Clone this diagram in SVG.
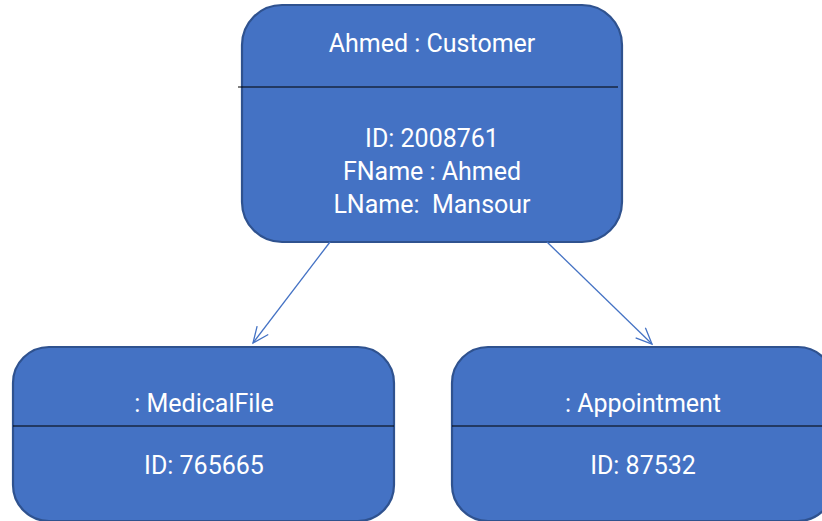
<svg xmlns="http://www.w3.org/2000/svg" width="822" height="521" viewBox="0 0 822 521">
<defs>
<style>
.box{fill:#4472C4;stroke:#2F528F;stroke-width:2.2}
.div{stroke:#000;stroke-width:1.2}
.t{fill:#fff;font-family:Roboto,"Liberation Sans",sans-serif;font-size:25px;text-anchor:middle}
.conn{stroke:#4472C4;stroke-width:1.3;fill:none}
</style>
<marker id="open" markerWidth="20" markerHeight="20" refX="18" refY="8" orient="auto" markerUnits="userSpaceOnUse">
<path d="M2,1 L18,8 L2,15" fill="none" stroke="#4472C4" stroke-width="1.3"/>
</marker>
</defs>
<rect width="822" height="521" fill="#fff"/>
<g id="customer">
<rect class="box" x="242" y="5" width="380" height="237" rx="40" ry="40"/>
<line class="div" x1="238" y1="87" x2="618" y2="87"/>
<text class="t" x="432" y="52">Ahmed : Customer</text>
<text class="t" x="432" y="147">ID: 2008761</text>
<text class="t" x="432" y="180">FName : Ahmed</text>
<text class="t" x="432" y="213" xml:space="preserve">LName:  Mansour</text>
</g>
<g id="medicalfile">
<rect class="box" x="13" y="347" width="381" height="174" rx="36" ry="36"/>
<line class="div" x1="13" y1="426" x2="394" y2="426"/>
<text class="t" x="204" y="412">: MedicalFile</text>
<text class="t" x="204" y="474">ID: 765665</text>
</g>
<g id="appointment">
<rect class="box" x="452" y="347" width="382" height="174" rx="36" ry="36"/>
<line class="div" x1="452" y1="426" x2="834" y2="426"/>
<text class="t" x="643" y="412">: Appointment</text>
<text class="t" x="643" y="474">ID: 87532</text>
</g>
<g id="connectors">
<line class="conn" x1="330" y1="242" x2="253" y2="343" marker-end="url(#open)"/>
<line class="conn" x1="547" y1="242" x2="652" y2="344" marker-end="url(#open)"/>
</g>
</svg>
